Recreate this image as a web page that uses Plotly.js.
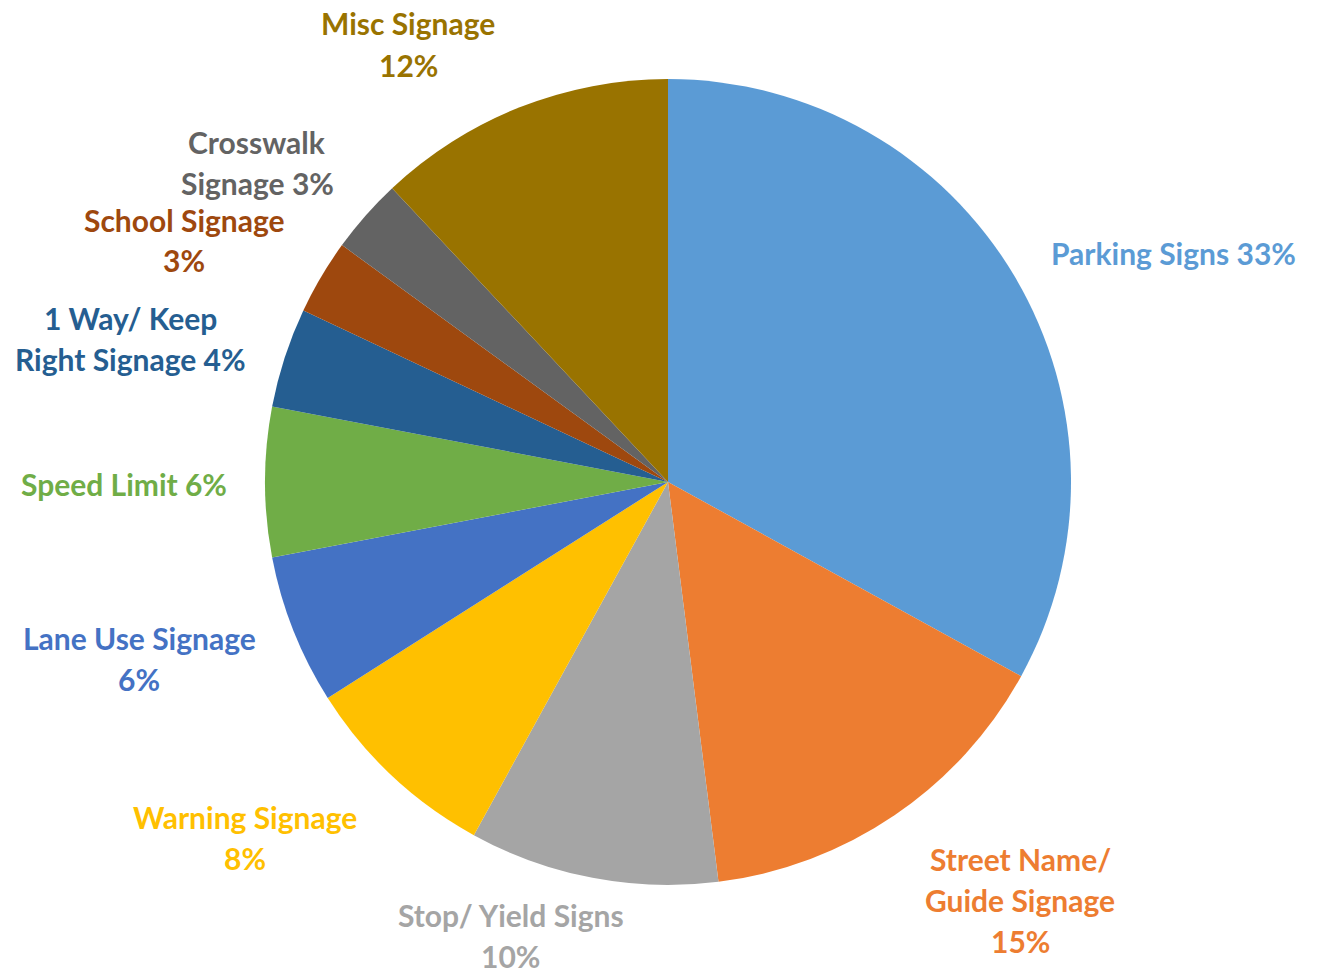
<!DOCTYPE html>
<html>
<head>
<meta charset="utf-8">
<script src="https://cdn.plot.ly/plotly-3.0.1.min.js"></script>
<style>html,body{margin:0;padding:0;background:#fff;}#chart{width:1321px;height:976px;}</style>
</head>
<body>
<div id="chart"></div>
<script>
const categories = ["Parking Signs", "Street Name/ Guide Signage", "Stop/ Yield Signs", "Warning Signage", "Lane Use Signage", "Speed Limit", "1 Way/ Keep Right Signage", "School Signage", "Crosswalk Signage", "Misc Signage"];
const values = [33, 15, 10, 8, 6, 6, 4, 3, 3, 12];
const labelLines = [
  ["Parking Signs 33%"],
  ["Street Name/", "Guide Signage", "15%"],
  ["Stop/ Yield Signs", "10%"],
  ["Warning Signage", "8%"],
  ["Lane Use Signage", "6%"],
  ["Speed Limit 6%"],
  ["1 Way/ Keep", "Right Signage 4%"],
  ["School Signage", "3%"],
  ["Crosswalk", "Signage 3%"],
  ["Misc Signage", "12%"]
];
const colors = ["#5B9BD5", "#ED7D31", "#A5A5A5", "#FFC000", "#4472C4", "#70AD47", "#255E91", "#9E480E", "#636363", "#997300"];
// label centre positions in pixels (layout only)
const labelPos = [[1173, 253], [1020, 900], [511, 935], [245, 837], [139, 658], [124, 484], [130, 338], [184, 240], [257, 162], [408, 44]];

const W = 1321, H = 976, LINE = 41;
const cx = 668, cy = 482, r = 403;

const annotations = [];
labelLines.forEach((lines, i) => {
  const n = lines.length;
  lines.forEach((t, j) => {
    const py = labelPos[i][1] + (j - (n - 1) / 2) * LINE;
    annotations.push({
      text: t, showarrow: false, xref: 'paper', yref: 'paper',
      x: labelPos[i][0] / W, y: 1 - py / H, xanchor: 'center', yanchor: 'middle',
      font: {family: 'Lato, "Open Sans", sans-serif', size: 30, color: colors[i], weight: 'bold'}
    });
  });
});

const trace = {
  type: 'pie', labels: categories, values: values, sort: false,
  direction: 'clockwise', rotation: 0,
  marker: {colors: colors, line: {width: 0}},
  textinfo: 'none', hoverinfo: 'label+percent',
  domain: {x: [(cx - r) / W, (cx + r) / W], y: [1 - (cy + r) / H, 1 - (cy - r) / H]}
};

Plotly.newPlot('chart', [trace], {
  width: W, height: H, margin: {l: 0, r: 0, t: 0, b: 0},
  showlegend: false, paper_bgcolor: '#fff', annotations: annotations
}, {displayModeBar: false, staticPlot: true});
</script>
</body>
</html>
